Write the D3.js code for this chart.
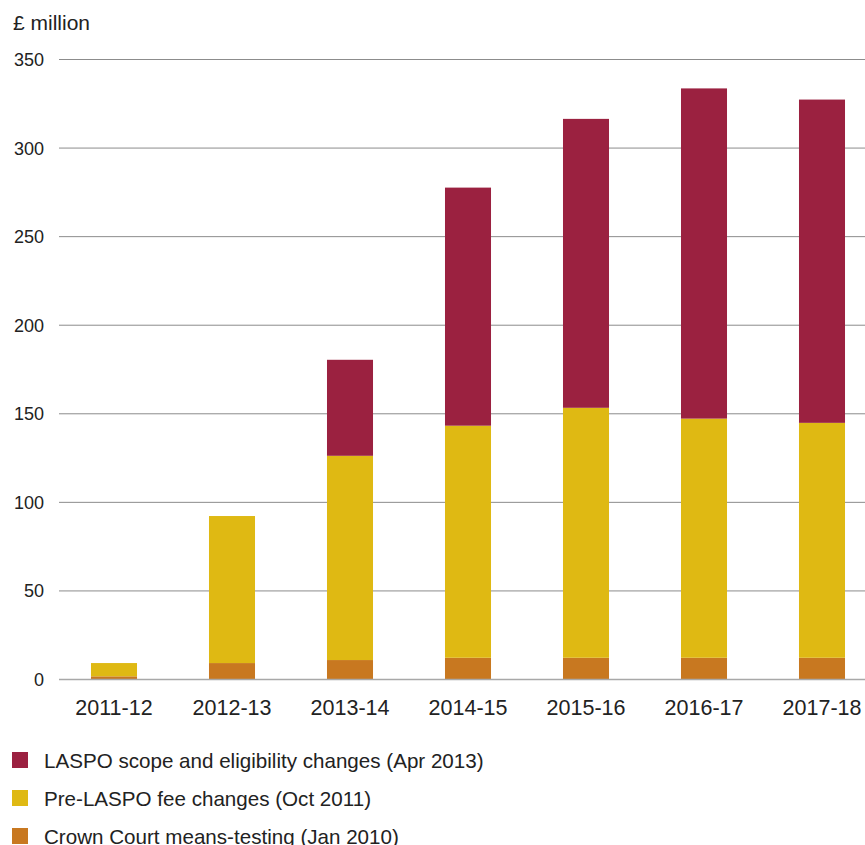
<!DOCTYPE html>
<html>
<head>
<meta charset="utf-8">
<script src="https://cdn.jsdelivr.net/npm/d3@7"></script>
<style>
  html, body { margin: 0; padding: 0; background: #fff; }
  text { font-family: "Liberation Sans", Arial, Helvetica, sans-serif; fill: #222; }
</style>
</head>
<body>
<svg id="chart" width="865" height="845"></svg>
<script>
// Financial years on the x axis
const years = ["2011-12", "2012-13", "2013-14", "2014-15", "2015-16", "2016-17", "2017-18"];

// Savings by policy change, £ million (stacked bottom to top)
const crownCourt = [1.5, 9, 10.7, 12, 12, 12, 12];
const preLaspo   = [7.5, 83, 115.3, 131, 141.1, 135, 132.6];
const laspo      = [0, 0, 54.2, 134.4, 163.1, 186.4, 182.5];

const seriesKeys   = ["crown", "pre", "laspo"];
const seriesLabels = {
  laspo: "LASPO scope and eligibility changes (Apr 2013)",
  pre:   "Pre-LASPO fee changes (Oct 2011)",
  crown: "Crown Court means-testing (Jan 2010)"
};
const seriesColors = { crown: "#C87820", pre: "#DFB913", laspo: "#9B2140" };

const yTicks = [0, 50, 100, 150, 200, 250, 300, 350];

const rows = years.map((y, i) => ({ year: y, crown: crownCourt[i], pre: preLaspo[i], laspo: laspo[i] }));

const svg = d3.select("#chart");

const x = d3.scaleBand().domain(years).range([55, 881]).paddingInner(0.61).paddingOuter(0.305);
const y = d3.scaleLinear().domain([0, 350]).range([679, 59]);

// Gridlines
svg.append("g")
  .selectAll("line")
  .data(yTicks.filter(d => d > 0))
  .join("line")
  .attr("x1", 59).attr("x2", 865)
  .attr("y1", d => y(d) + 0.5).attr("y2", d => y(d) + 0.5)
  .attr("stroke", "#8c8c8c").attr("stroke-width", 1);

// Y tick labels
svg.append("g")
  .selectAll("text")
  .data(yTicks)
  .join("text")
  .attr("x", 44)
  .attr("y", d => y(d) + 7)
  .attr("text-anchor", "end")
  .style("font-size", "18px")
  .text(d => d);

// Unit label
svg.append("text")
  .attr("x", 13).attr("y", 30)
  .style("font-size", "21px")
  .text("£ million");

// Stacked bars
const stack = d3.stack().keys(seriesKeys)(rows);
svg.append("g")
  .selectAll("g")
  .data(stack)
  .join("g")
  .attr("fill", d => seriesColors[d.key])
  .selectAll("rect")
  .data(d => d)
  .join("rect")
  .attr("x", d => x(d.data.year))
  .attr("width", x.bandwidth())
  .attr("y", d => y(d[1]))
  .attr("height", d => y(d[0]) - y(d[1]));

// Baseline
svg.append("line")
  .attr("x1", 59).attr("x2", 865)
  .attr("y1", y(0) + 0.5).attr("y2", y(0) + 0.5)
  .attr("stroke", "#a8a8a8").attr("stroke-width", 1.5);

// X axis labels
svg.append("g")
  .selectAll("text")
  .data(years)
  .join("text")
  .attr("x", d => x(d) + x.bandwidth() / 2)
  .attr("y", 715)
  .attr("text-anchor", "middle")
  .style("font-size", "21.5px")
  .text(d => d);

// Legend
const legendOrder = ["laspo", "pre", "crown"];
const legend = svg.append("g")
  .selectAll("g")
  .data(legendOrder)
  .join("g")
  .attr("transform", (d, i) => `translate(12, ${752 + i * 38})`);
legend.append("rect")
  .attr("width", 16).attr("height", 16)
  .attr("fill", d => seriesColors[d]);
legend.append("text")
  .attr("x", 32).attr("y", 16)
  .style("font-size", "20.6px")
  .text(d => seriesLabels[d]);
</script>
</body>
</html>
